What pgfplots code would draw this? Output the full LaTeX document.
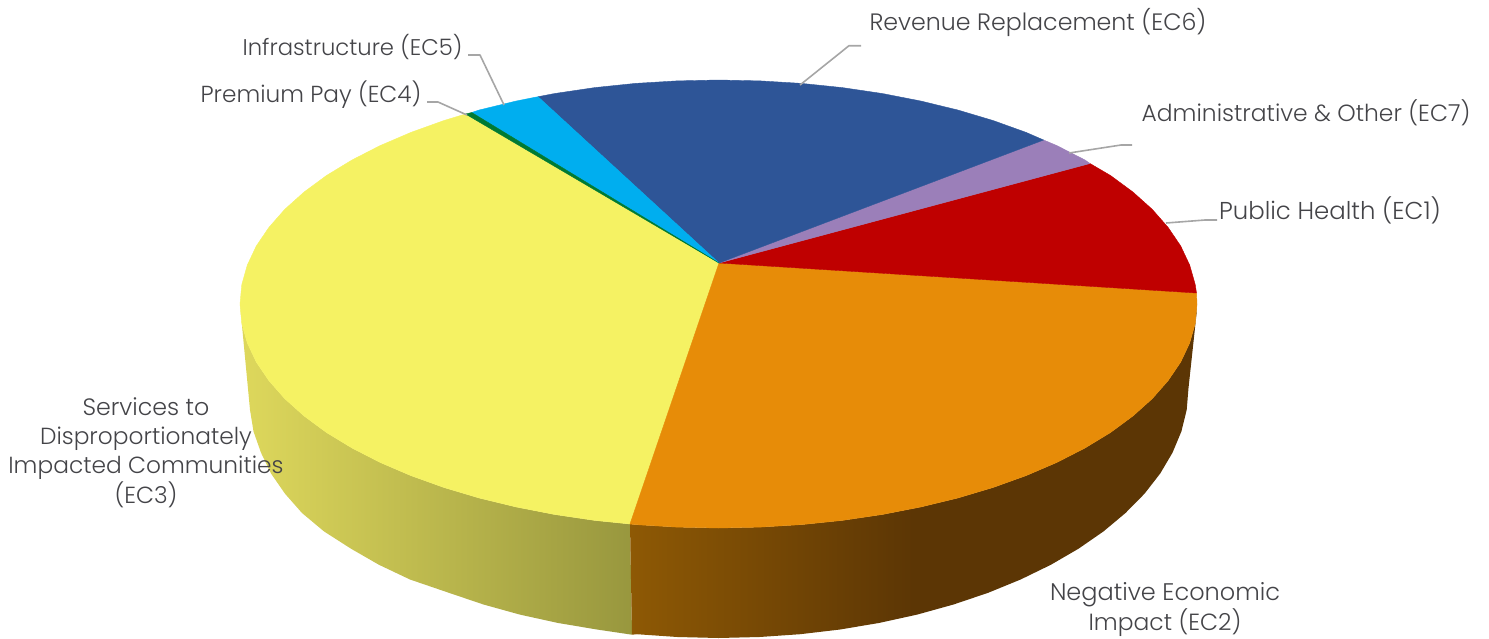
\documentclass[border=0pt]{standalone}
\usepackage{fontspec}
\setmainfont{Poppins}[UprightFont=* Light]
\usepackage{pgfplots}
\pgfplotsset{compat=1.18}
\definecolor{cYellow}{RGB}{245,242,99}
\definecolor{cOrange}{RGB}{231,140,8}
\definecolor{cRed}{RGB}{191,0,0}
\definecolor{cPurple}{RGB}{155,127,185}
\definecolor{cBlue}{RGB}{46,85,151}
\definecolor{cCyan}{RGB}{0,174,239}
\definecolor{cGreen}{RGB}{0,122,51}
\definecolor{cLine}{RGB}{166,166,166}
\definecolor{cText}{RGB}{68,68,72}
\begin{document}
\begin{tikzpicture}
\path[use as bounding box] (0,0) rectangle (1489pt,638pt);
\begin{axis}[
  anchor=south west, at={(0,0)},
  width=1489pt, height=638pt, scale only axis,
  xmin=0, xmax=1489, ymin=0, ymax=638, y dir=reverse,
  hide axis, clip=true,
  every axis plot/.append style={no markers, line join=round},
]
% wall of EC3
\addplot[draw=none, left color={rgb,255:red,222;green,216;blue,92}, right color={rgb,255:red,152;green,151;blue,62}] coordinates {
(240,304)(241.8,323.5)(250,409.8)(253.5,431.4)(261,452.7)(271,473.5)(285,493.7)(302,513)(324,531.4)(351,548.7)(379,564.8)(410,579.5)(448.9,592.8)(483.5,604.5)(519.9,614.6)(557.7,622.9)(596.9,629.5)(632,634.7)
(630,524)(594.7,520.4)(554.8,514.5)(516.3,507)(479.2,498)(444,487.5)(410.9,475.6)(380.1,462.4)(352,448)(326.5,432.5)(304.1,416)(284.8,398.7)(268.9,380.6)(256.3,362)(247.3,342.9)(241.8,323.5)
};
% wall of EC2
\addplot[draw=none, left color={rgb,255:red,142;green,89;blue,5}, right color={rgb,255:red,92;green,54;blue,5}, middle color={rgb,255:red,92;green,54;blue,5}] coordinates {
(630,524)(632,634.7)(636.9,634.2)(677.5,637)(718.5,638)(759.5,637)(800.1,634.2)(840.1,629.5)(879.3,622.9)(917.1,614.6)(953.5,604.5)(988.1,592.8)(1020.6,579.5)(1050.8,564.8)(1078.5,548.7)(1103.5,531.4)(1125.5,513)(1144.5,493.7)(1160.2,473.5)(1172.5,452.7)(1181.4,431.4)(1186.7,409.8)(1188.5,388)(1196.6,313)(1197,304)
(1195.2,323.5)(1189.7,342.9)(1180.7,362)(1168.1,380.6)(1152.2,398.7)(1132.9,416)(1110.5,432.5)(1085,448)(1056.9,462.4)(1026.1,475.6)(993,487.5)(957.8,498)(920.7,507)(882.2,514.5)(842.3,520.4)(801.6,524.6)(760.2,527.1)(718.5,528)(676.8,527.1)(635.4,524.6)
};
% EC3
\addplot[fill=cYellow, draw=cYellow, line width=0.4pt] coordinates {
(719,263)(630,524)(594.7,520.4)(554.8,514.5)(516.3,507)(479.2,498)(444,487.5)(410.9,475.6)(380.1,462.4)(352,448)(326.5,432.5)(304.1,416)(284.8,398.7)(268.9,380.6)(256.3,362)(247.3,342.9)(241.8,323.5)(240,304)(241.8,284.5)(247.3,265.1)(256.3,246)(268.9,227.4)(284.8,209.3)(304.1,192)(326.5,175.5)(352,160)(380.1,145.6)(410.9,132.4)(444,120.5)(465.5,114)(719,263)
};
% EC2
\addplot[fill=cOrange, draw=cOrange, line width=0.4pt] coordinates {
(719,263)(1196.5,293)(1197,304)(1195.2,323.5)(1189.7,342.9)(1180.7,362)(1168.1,380.6)(1152.2,398.7)(1132.9,416)(1110.5,432.5)(1085,448)(1056.9,462.4)(1026.1,475.6)(993,487.5)(957.8,498)(920.7,507)(882.2,514.5)(842.3,520.4)(801.6,524.6)(760.2,527.1)(718.5,528)(676.8,527.1)(635.4,524.6)(630,524)(719,263)
};
% EC1
\addplot[fill=cRed, draw=cRed, line width=0.4pt] coordinates {
(719,263)(1090,163.5)(1110.5,175.5)(1132.9,192)(1152.2,209.3)(1168.1,227.4)(1180.7,246)(1189.7,265.1)(1195.2,284.5)(1196.5,293)(719,263)
};
% EC7
\addplot[fill=cPurple, draw=cPurple, line width=0.4pt] coordinates {
(719,263)(1043.6,140)(1056.9,145.6)(1085,160)(1090,163.5)(719,263)
};
% EC6
\addplot[fill=cBlue, draw=cBlue, line width=0.4pt] coordinates {
(719,263)(538,96.7)(554.8,93.5)(594.7,87.6)(635.4,83.4)(676.8,80.9)(718.5,80)(760.2,80.9)(801.6,83.4)(842.3,87.6)(882.2,93.5)(920.7,101)(957.8,110)(993,120.5)(1026.1,132.4)(1043.6,140)(719,263)
};
% EC5
\addplot[fill=cCyan, draw=cCyan, line width=0.4pt] coordinates {
(719,263)(471.7,112.5)(479.2,110)(516.3,101)(538,96.7)(719,263)
};
% EC4
\addplot[fill=cGreen, draw=cGreen, line width=0.4pt] coordinates {
(719,263)(465.5,114)(471.7,112.5)(719,263)
};
% leaders
\addplot[cLine, line width=1.6pt] coordinates {(468,55)(480,55)(504,105)};
\addplot[cLine, line width=1.6pt] coordinates {(427,102)(438,102)(467,115)};
\addplot[cLine, line width=1.6pt] coordinates {(861,45.7)(849,45.7)(800,85)};
\addplot[cLine, line width=1.6pt] coordinates {(1132,145)(1121,145)(1069,153)};
\addplot[cLine, line width=1.6pt] coordinates {(1217,220)(1205,220)(1166,223)};
% labels
\tikzset{lab/.style={text=cText, inner sep=0pt, anchor=base}}
\newcommand{\fs}[1]{\fontsize{#1}{#1}\selectfont}
\node[lab] at (axis cs:1038,30) {\fs{23.7}Revenue Replacement (EC6)};
\node[lab] at (axis cs:1306,121) {\fs{23.4}Administrative \& Other (EC7)};
\node[lab] at (axis cs:1330,219) {\fs{24.4}Public Health (EC1)};
\node[lab] at (axis cs:352.5,55) {\fs{22.7}Infrastructure (EC5)};
\node[lab] at (axis cs:311,102) {\fs{23.2}Premium Pay (EC4)};
\node[lab] at (axis cs:146,415) {\fs{23.7}Services to};
\node[lab] at (axis cs:146,444) {\fs{23.3}Disproportionately};
\node[lab] at (axis cs:146,473) {\fs{23.3}Impacted Communities};
\node[lab] at (axis cs:146,503) {\fs{23.3}(EC3)};
\node[lab] at (axis cs:1165,600) {\fs{24}Negative Economic};
\node[lab] at (axis cs:1165,630) {\fs{23.4}Impact (EC2)};
\end{axis}
\end{tikzpicture}
\end{document}
